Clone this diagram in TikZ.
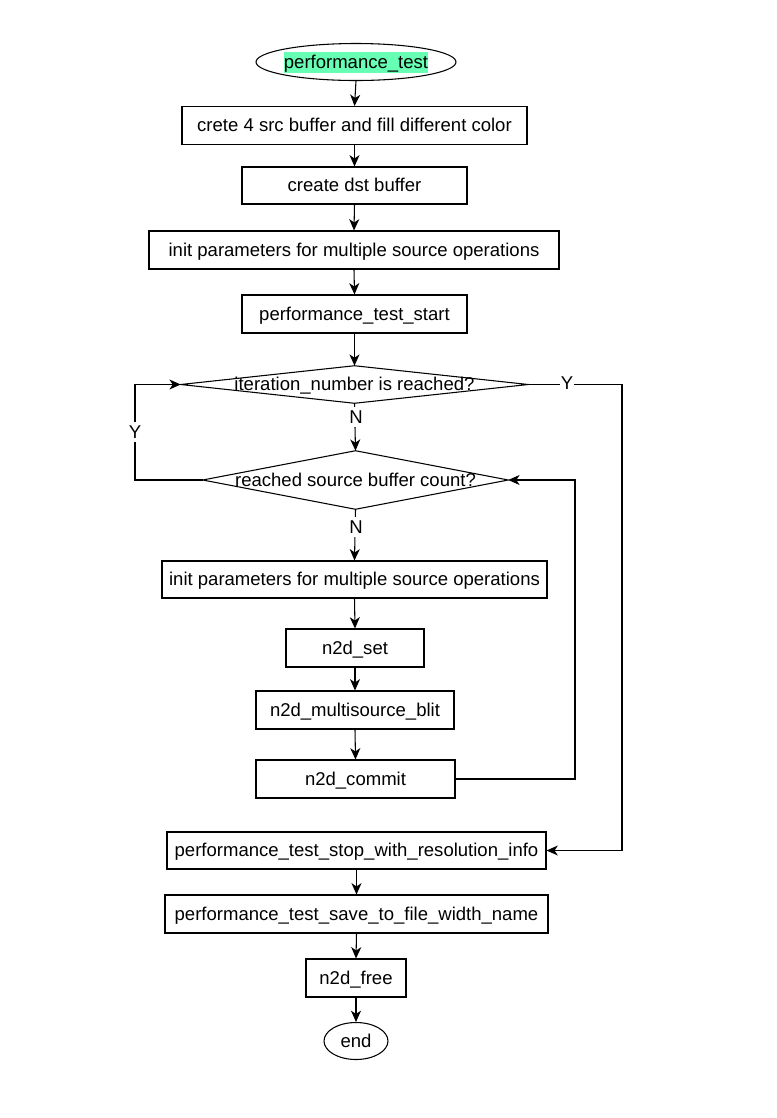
\documentclass[tikz,border=0pt]{standalone}
\usepackage{fontspec}
\setmainfont{Liberation Sans}
\usetikzlibrary{arrows.meta,shapes.geometric}
\definecolor{hl}{RGB}{102,255,179}
\def\pxu{0.75pt}
\tikzset{
  txt/.style={font=\fontsize{13.9}{16}\selectfont, text height=11.3pt, text depth=2pt},
  lw/.style={line width=0.8pt},
  stepbox/.style 2 args={draw, lw, rectangle, inner sep=0pt, txt,
     minimum width=#1*\pxu, minimum height=#2*\pxu},
  oval/.style 2 args={draw, lw, ellipse, inner sep=0pt, txt,
     minimum width=#1*\pxu, minimum height=#2*\pxu},
  decision/.style 2 args={rectangle, inner sep=0pt, txt,
     minimum width=#1*\pxu, minimum height=#2*\pxu},
  arr/.style={lw, -{Stealth[length=8.5pt,width=7.5pt,inset=2.5pt]}},
  lbl/.style={fill=white, inner sep=0.5pt, txt},
}
\begin{document}
\begin{tikzpicture}[x=0.75pt,y=-0.75pt]
\useasboundingbox (0,0) rectangle (777,1118);
\fill[white] (0,0) rectangle (777,1118);

\node[oval={200}{37}] (start) at (356,62) {};
\node[fill=hl, inner xsep=0pt, inner ysep=1pt, txt] (starttxt) at (356,62.5) {performance\_test};
\node[stepbox={345}{38}] (b1) at (354.5,125.5) {crete 4 src buffer and fill different color};
\node[stepbox={225}{37}] (b2) at (354.5,185.5) {create dst buffer};
\node[stepbox={410}{38}] (b3) at (354,250) {init parameters for multiple source operations};
\node[stepbox={225}{38}] (b4) at (354.5,314) {performance\_test\_start};
\node[decision={347}{37}] (d1) at (354.5,384.5) {};
\node[decision={305}{58}] (d2) at (355.5,480) {};
\node[stepbox={385}{37}] (b5) at (354.5,579.5) {init parameters for multiple source operations};
\node[stepbox={138}{38}] (b6) at (355,648) {n2d\_set};
\node[stepbox={198}{38}] (b7) at (355,710) {n2d\_multisource\_blit};
\node[stepbox={199}{38}] (b8) at (355.5,779) {n2d\_commit};
\node[stepbox={379}{37}] (b9) at (356.5,850.5) {performance\_test\_stop\_with\_resolution\_info};
\node[stepbox={383}{38}] (b10) at (356.5,914) {performance\_test\_save\_to\_file\_width\_name};
\node[stepbox={100}{38}] (b11) at (356,978) {n2d\_free};
\node[oval={64}{37}] (end) at (356,1041) {end};

% diamonds
\draw[lw] (d1.north) -- (d1.east) -- (d1.south) -- (d1.west) -- cycle;
\draw[lw] (d2.north) -- (d2.east) -- (d2.south) -- (d2.west) -- cycle;
\node[txt] (d1txt) at (d1.center) {iteration\_number is reached?};
\node[txt] (d2txt) at (d2.center) {reached source buffer count?};

% coordinates for elbows
\coordinate (r1) at (622,384.5);
\coordinate (r2) at (622,850.5);
\coordinate (l1) at (135,480);
\coordinate (l2) at (135,384.5);
\coordinate (c1) at (575,779);
\coordinate (c2) at (575,480);

% straight arrows
\draw[arr] (start.south) -- (b1.north);
\draw[arr] (b1.south) -- (b2.north);
\draw[arr] (b2.south) -- (b3.north);
\draw[arr] (b3.south) -- (b4.north);
\draw[arr] (b4.south) -- (d1.north);
\draw[arr] (d1.south) -- (d2.north);
\draw[arr] (d2.south) -- (b5.north);
\draw[arr] (b5.south) -- (b6.north);
\draw[arr] (b6.south) -- (b7.north);
\draw[arr] (b7.south) -- (b8.north);
\draw[arr] (b9.south) -- (b10.north);
\draw[arr] (b10.south) -- (b11.north);
\draw[arr] (b11.south) -- (end.north);

% loops
\draw[arr] (d1.east) -- (r1) -- (r2) -- (b9.east);
\draw[arr] (d2.west) -- (l1) -- (l2) -- (d1.west);
\draw[arr] (b8.east) -- (c1) -- (c2) -- (d2.east);

% labels
\node[lbl] (yr) at (567,383) {Y};
\node[lbl] (yl) at (135,432) {Y};
\node[lbl] (n1) at (356,417) {N};
\node[lbl] (n2) at (356,527) {N};
\end{tikzpicture}
\end{document}
